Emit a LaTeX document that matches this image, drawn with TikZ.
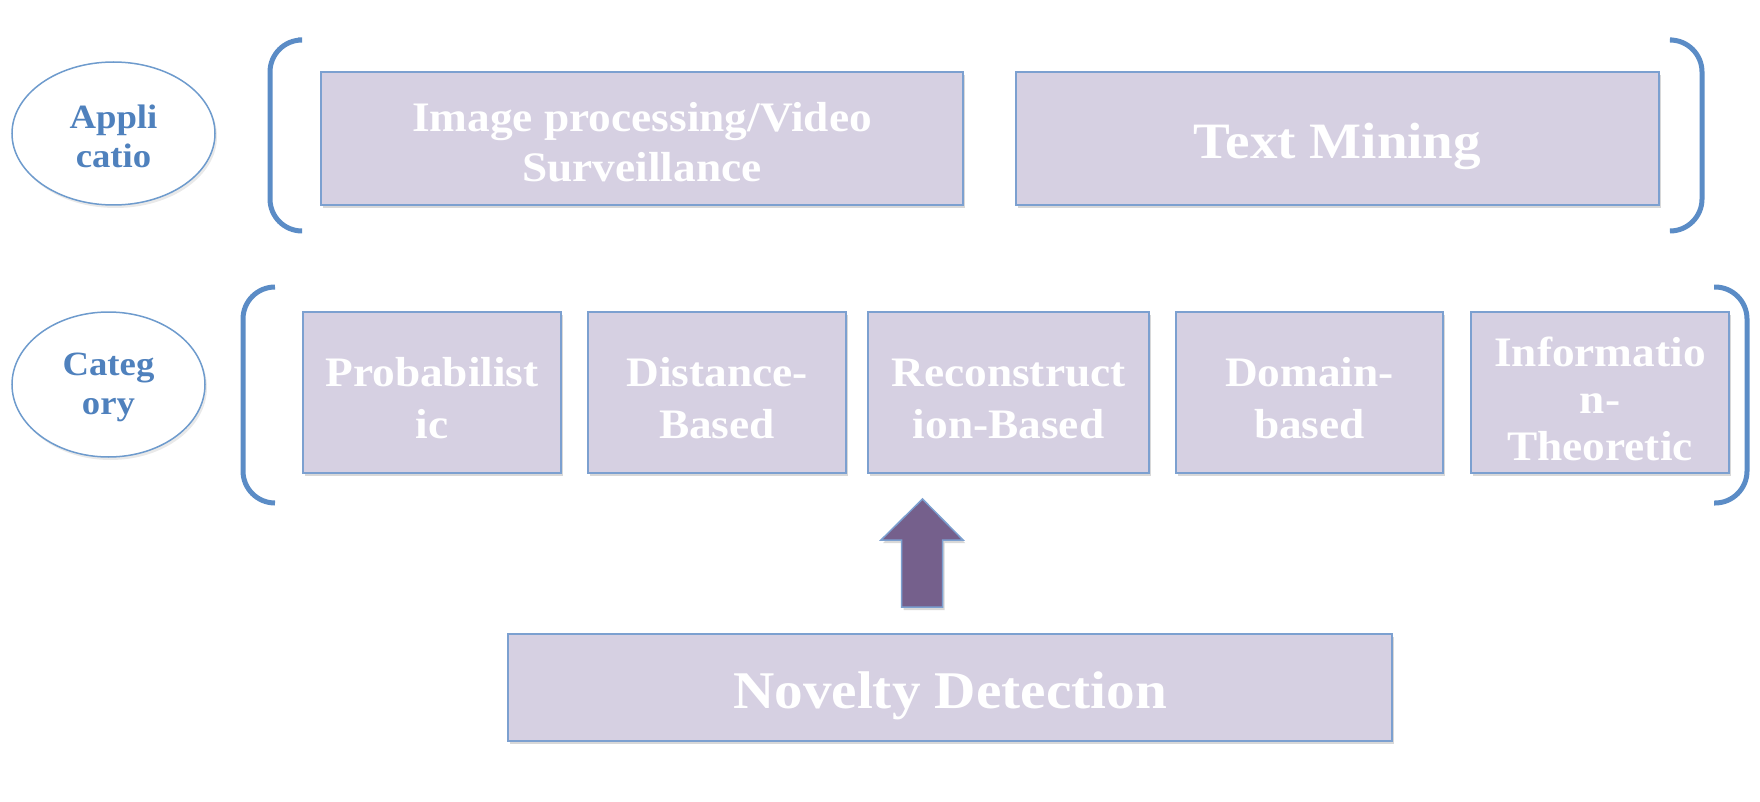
\documentclass[tikz,border=0pt]{standalone}
\usepackage{fontspec}
\setmainfont{Liberation Serif}[FakeStretch=1.08]
\usetikzlibrary{shadows,shapes.geometric}
\definecolor{boxfill}{RGB}{214,208,226}
\definecolor{boxline}{RGB}{124,160,208}
\definecolor{ellline}{RGB}{110,155,205}
\definecolor{elltext}{RGB}{79,129,189}
\definecolor{brk}{RGB}{91,140,198}
\definecolor{arrfill}{RGB}{117,96,140}
\tikzset{
  pbox/.style={draw=boxline, line width=1.8pt, fill=boxfill, inner sep=0pt,
    drop shadow={opacity=0.22, shadow xshift=2pt, shadow yshift=-3pt, fill=black!70}},
  btext/.style={text=white, align=center, inner sep=0pt},
  midtext/.style={btext, font=\bfseries\fontsize{42}{52}\selectfont},
  tag/.style={draw=ellline, line width=1.5pt, ellipse, fill=white, inner sep=0pt,
    drop shadow={opacity=0.12, shadow xshift=2pt, shadow yshift=-3pt, fill=black!70}},
  tagtext/.style={text=elltext, align=center, inner sep=0pt, font=\bfseries\fontsize{34}{39}\selectfont},
  brace/.style={draw=brk, line width=5pt, rounded corners=32pt}
}
\begin{document}
\begin{tikzpicture}[x=1pt, y=-1pt]
\useasboundingbox (0,0) rectangle (1760,802);
% labels
\node[tag, minimum width=203, minimum height=143] (app) at (113.5,133.5) {};
\node[tagtext] (appt) at ([yshift=-3pt]app.center) {Appli\\catio};
\node[tag, minimum width=193, minimum height=145] (cat) at (108.5,384.5) {};
\node[tagtext] (catt) at ([yshift=-3pt]cat.center) {Categ\\ory};
% application boxes
\node[pbox, minimum width=642, minimum height=133] (img) at (642,138.5) {};
\node[btext, font=\bfseries\fontsize{42}{50}\selectfont] (imgt) at ([yshift=-3.5pt]img.center) {Image processing/Video\\Surveillance};
\node[pbox, minimum width=643, minimum height=133] (txt) at (1337.5,138.5) {};
\node[btext, font=\bfseries\fontsize{51}{60}\selectfont] (txtt) at ([yshift=-8pt]txt.center) {Text Mining};
% category boxes
\node[pbox, minimum width=258, minimum height=161] (prob) at (432,392.5) {};
\node[midtext] (probt) at ([yshift=-6pt]prob.center) {Probabilist\\ic};
\node[pbox, minimum width=258, minimum height=161] (dist) at (717,392.5) {};
\node[midtext] (distt) at ([yshift=-6pt]dist.center) {Distance-\\Based};
\node[pbox, minimum width=281, minimum height=161] (recon) at (1008.5,392.5) {};
\node[midtext] (recont) at ([yshift=-6pt]recon.center) {Reconstruct\\ion-Based};
\node[pbox, minimum width=267, minimum height=161] (dom) at (1309.5,392.5) {};
\node[midtext] (domt) at ([yshift=-6pt]dom.center) {Domain-\\based};
\node[pbox, minimum width=258, minimum height=161] (info) at (1600,392.5) {};
\node[btext, font=\bfseries\fontsize{42}{47}\selectfont] (infot) at ([yshift=-6pt]info.center) {Informatio\\n-\\Theoretic};
% novelty
\node[pbox, minimum width=884, minimum height=107] (nov) at (950,687.5) {};
\node[btext, font=\bfseries\fontsize{53}{62}\selectfont] (novt) at ([yshift=-8pt]nov.center) {Novelty Detection};
% brackets
\draw[brace] (298,40) -| (270,135) |- (298,231);
\draw[brace] (1672,40) -| (1702,135) |- (1672,231);
\draw[brace] (275,287) -| (243,395) |- (275,503);
\draw[brace] (1714,287) -| (1747,395) |- (1714,503);
% arrow
\coordinate (tip) at (922.5,499);
\draw[draw=boxline, line width=1.5pt, fill=arrfill, line join=miter,
  drop shadow={opacity=0.22, shadow xshift=2pt, shadow yshift=-3pt, fill=black!70}]
  (tip) -- ++(40.5,41) -- ++(-20.5,0) -- ++(0,67) -- ++(-41,0) -- ++(0,-67) -- ++(-20.5,0) -- cycle;
\end{tikzpicture}
\end{document}
